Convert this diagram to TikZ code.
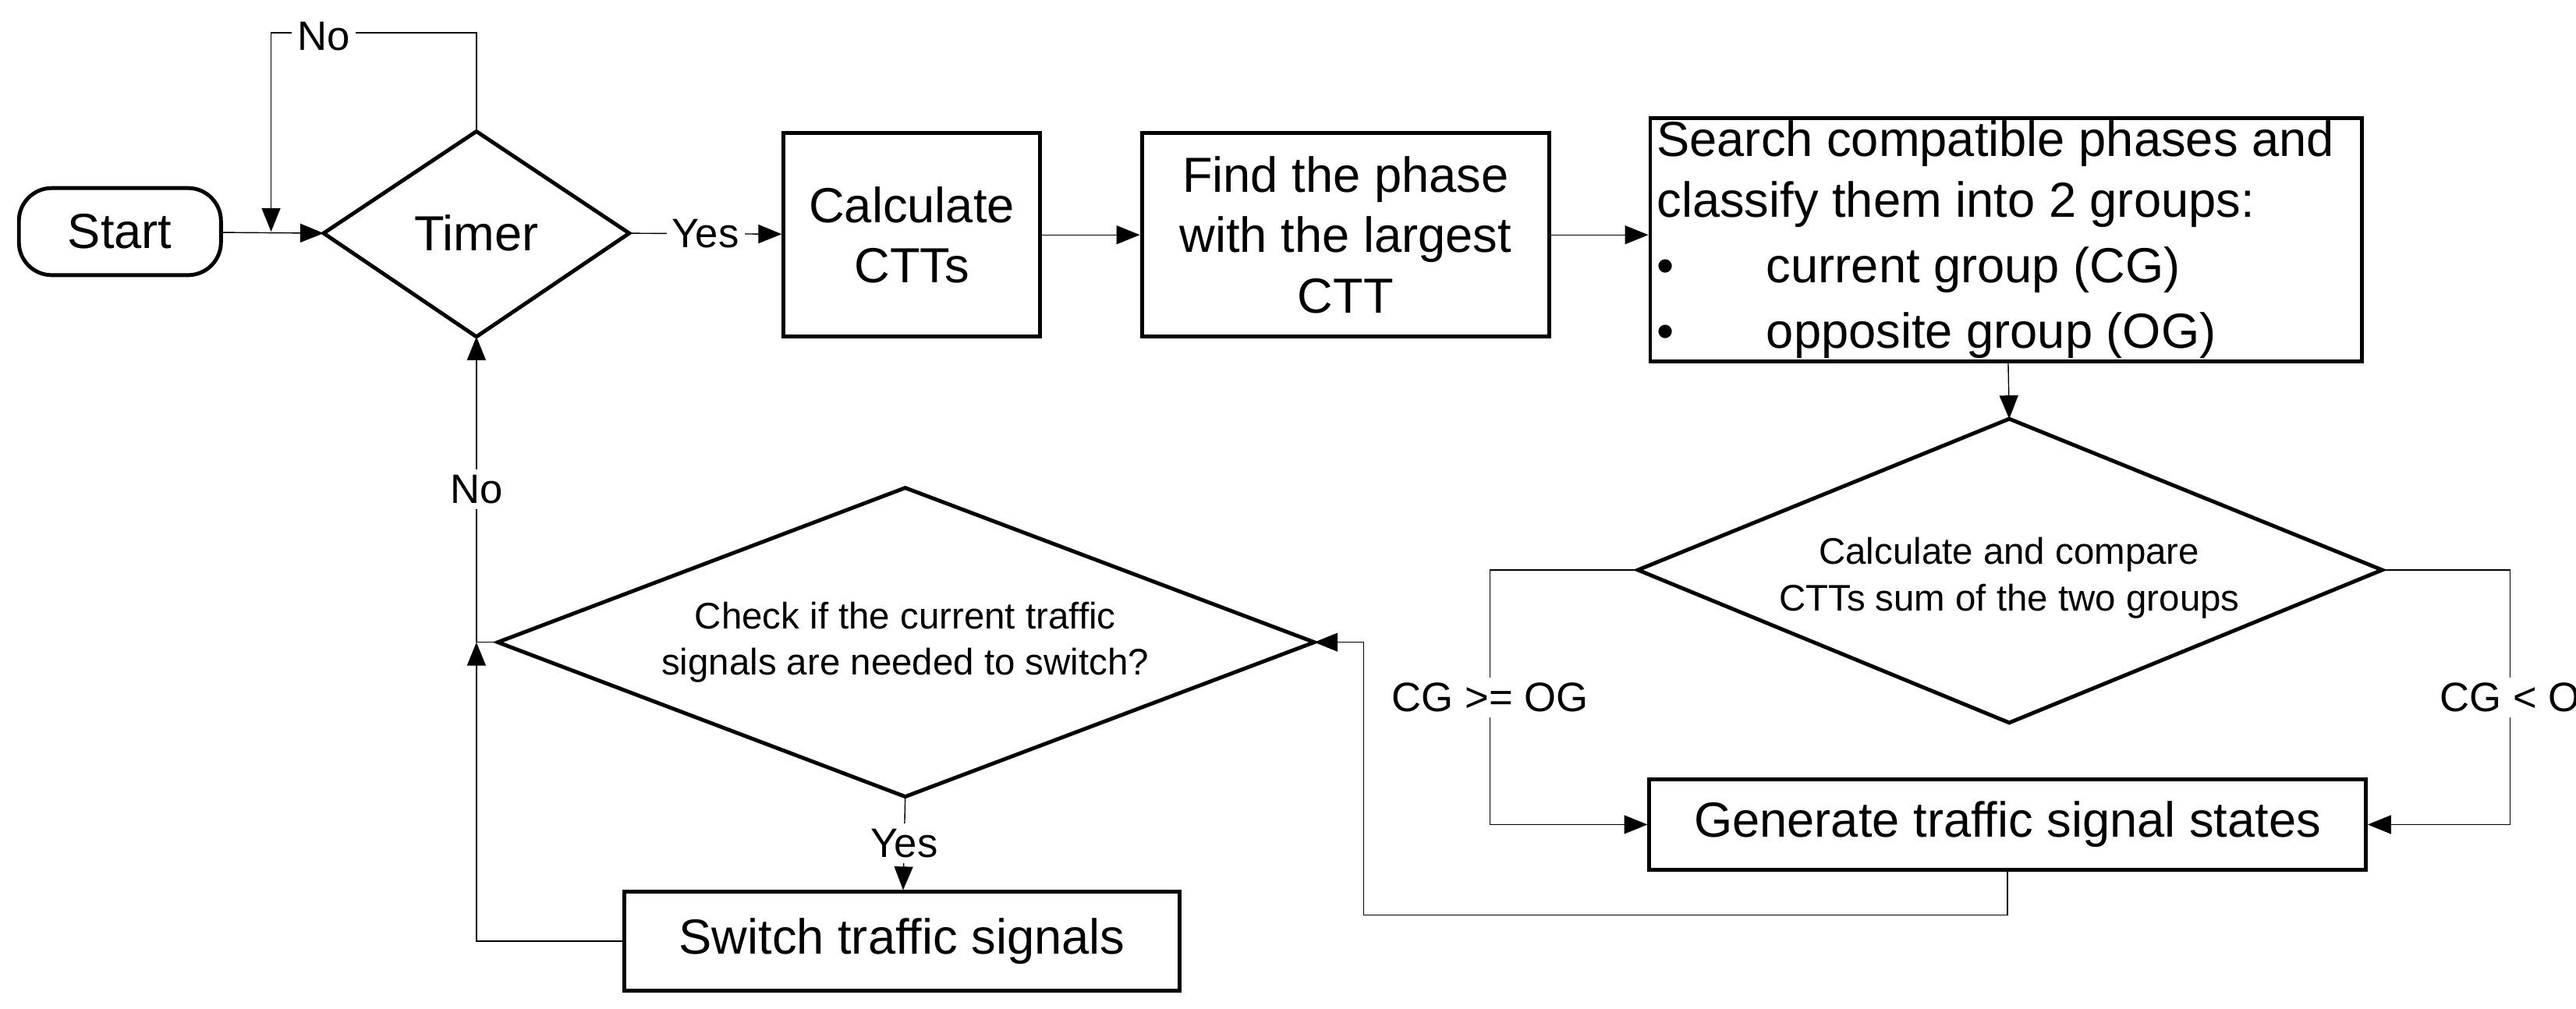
\documentclass[tikz,border=0pt]{standalone}
\usepackage{fontspec}
\setmainfont{Liberation Sans}
\usetikzlibrary{arrows.meta}
\begin{document}
\begin{tikzpicture}[x=0.2107mm, y=-0.2107mm,
  box/.style = {draw, line width=1.4pt, rectangle, inner sep=0pt, align=center, font=\fontsize{18}{22}\selectfont},
  dec/.style = {draw, line width=1.4pt, line join=miter},
  link/.style = {thin, -{Triangle[length=3mm, width=2.4mm]}},
  lbl/.style = {fill=white, inner sep=2pt, font=\fontsize{15}{18}\selectfont}]
\useasboundingbox (0,0) rectangle (1568,614);
\node[box, minimum width=123*0.2107mm, minimum height=53*0.2107mm, rounded corners=12pt] (start) at (73,141) {Start};
% decision shapes
\node[font=\fontsize{18}{21}\selectfont] (timer) at (290,142) {Timer};
\coordinate (timer-n) at (290,80); \coordinate (timer-s) at (290,205);
\coordinate (timer-w) at (197,142); \coordinate (timer-e) at (383,142);
\draw[dec] (timer-n) -- (timer-e) -- (timer-s) -- (timer-w) -- cycle;
\node[align=center, font=\fontsize{13.5}{17}\selectfont] (comp) at (1223,352) {Calculate and compare\\CTTs sum of the two groups};
\coordinate (comp-n) at (1223,255); \coordinate (comp-s) at (1223,440);
\coordinate (comp-w) at (997,347); \coordinate (comp-e) at (1450,347);
\draw[dec] (comp-n) -- (comp-e) -- (comp-s) -- (comp-w) -- cycle;
\node[align=center, font=\fontsize{13.5}{17}\selectfont] (check) at (551,391) {Check if the current traffic\\signals are needed to switch?};
\coordinate (check-n) at (551,297); \coordinate (check-s) at (551,485);
\coordinate (check-w) at (303,391); \coordinate (check-e) at (800,391);
\draw[dec] (check-n) -- (check-e) -- (check-s) -- (check-w) -- cycle;
% boxes
\node[box, minimum width=156*0.2107mm, minimum height=124*0.2107mm] (ctt) at (555,143) {Calculate\\CTTs};
\node[box, minimum width=248*0.2107mm, minimum height=124*0.2107mm] (find) at (819,143) {Find the phase\\with the largest\\CTT};
\node[box, minimum width=433*0.2107mm, minimum height=148*0.2107mm] (search) at (1221,146) {%
\begin{minipage}{425\dimexpr0.2107mm\relax}\raggedright
Search compatible phases and\\classify them into 2 groups:\\[2pt]
\makebox[40pt][l]{\textbullet}current group (CG)\\[2pt]
\makebox[40pt][l]{\textbullet}opposite group (OG)
\end{minipage}};
\node[box, minimum width=436*0.2107mm, minimum height=55*0.2107mm] (gen) at (1222,502) {Generate traffic signal states};
\node[box, minimum width=338*0.2107mm, minimum height=60*0.2107mm] (switch) at (549,573) {Switch traffic signals};
\coordinate (merge) at (165,141);
\coordinate (up) at (290,391);
% connectors
\draw[link] (start) -- (timer-w);
\draw[link] (timer-n) |- (165,20) -- (merge);
\node[lbl] at (197,22) {No};
\draw[link] (timer-e) -- node[lbl]{Yes} (ctt);
\draw[link] (ctt) -- (find);
\draw[link] (find) -- (search.west |- find);
\draw[link] (search) -- (comp-n);
\draw[link] (comp-w) -| node[lbl, pos=0.75]{CG >= OG} (907,502) -- (gen);
\draw[link] (comp-e) -| node[lbl, pos=0.75]{CG < O} (1528,502) -- (gen);
\draw[link] (gen.south) |- (830,557) |- (check-e);
\draw[link] (check-s) -- node[lbl]{Yes} (switch);
\draw[link] (switch.west) -| (up);
\draw (check-w) -- (up);
\draw[link] (up) -- node[lbl]{No} (timer-s);
\end{tikzpicture}
\end{document}
